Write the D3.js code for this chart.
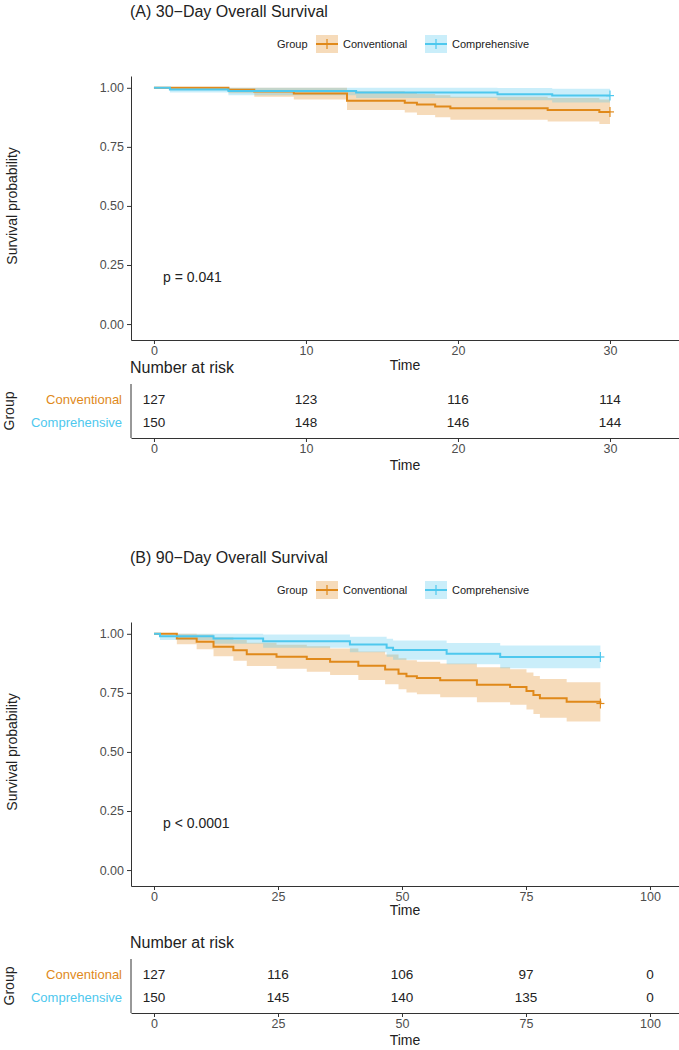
<!DOCTYPE html>
<html lang="en">
<head>
<meta charset="UTF-8">
<title>Survival</title>
<script src="https://d3js.org/d3.v7.min.js"></script>
<style>
  body{margin:0;background:#fff;}
  text{font-family:"Liberation Sans",Arial,sans-serif;}
  .axis path,.axis line{stroke:#333;}
  .axis text{fill:#4d4d4d;font-size:12.5px;}
</style>
</head>
<body>
<script type="text/javascript">
// ---- data ----
var groups = ["Conventional", "Comprehensive"];
var colors = ["#e0891a", "#4ec8ee"];

// panel A (30 day)
var aConvT  = [0, 4.9, 6.6, 9.2, 12.7, 16.5, 17.3, 18.5, 19.5, 25.9, 29.3, 30];
var aConvS  = [1, .992, .984, .976, .945, .937, .929, .921, .913, .906, .898, .898];
var aConvLo = [1, .977, .962, .950, .906, .896, .885, .875, .865, .857, .847, .847];
var aConvUp = [1, 1, 1, 1, .985, .979, .974, .968, .962, .957, .951, .951];
var aCompT  = [0, 1.05, 4.9, 13.3, 22.6, 26.2, 30];
var aCompS  = [1, .993, .987, .980, .973, .967, .967];
var aCompLo = [1, .980, .968, .957, .947, .938, .938];
var aCompUp = [1, 1, 1, 1, .999, .996, .996];
var aRiskTimes = [0, 10, 20, 30];
var aRiskConv = [127, 123, 116, 114];
var aRiskComp = [150, 148, 146, 144];

// panel B (90 day)
var bConvT  = [0, 4.6, 8.6, 12.0, 16.0, 18.7, 24.7, 30.8, 35.5, 41.2, 46.6, 49.3, 50.9, 53.0, 57.7, 65.1, 71.8, 75.1, 76.5, 77.8, 83.2, 90];
var bConvS  = [1, .980, .966, .945, .930, .913, .903, .893, .882, .865, .849, .831, .820, .813, .803, .784, .775, .758, .741, .727, .712, .705];
var bConvLo = [1, .956, .935, .905, .886, .864, .852, .839, .826, .805, .786, .765, .752, .744, .732, .710, .700, .680, .661, .645, .629, .621];
var bConvUp = [1, 1, .997, .985, .974, .962, .954, .947, .938, .925, .912, .897, .888, .882, .874, .858, .850, .836, .821, .809, .795, .789];
var bCompT  = [0, 1.2, 12.0, 22.0, 39.5, 46.9, 48.2, 59.0, 69.8, 90];
var bCompS  = [1, .990, .980, .969, .955, .941, .931, .916, .902, .902];
var bCompLo = [1, .974, .958, .941, .922, .903, .890, .871, .854, .854];
var bCompUp = [1, 1, 1, .997, .988, .979, .972, .961, .950, .950];
var bRiskTimes = [0, 25, 50, 75, 100];
var bRiskConv = [127, 116, 106, 97, 0];
var bRiskComp = [150, 145, 140, 135, 0];

var yTicks = [0, 0.25, 0.5, 0.75, 1];

var svg = d3.select("body").append("svg").attr("width", 679).attr("height", 1050);

function zip(t, s, lo, up){
  return t.map(function(d, i){ return {t: d, s: s[i], lo: lo[i], up: up[i]}; });
}

function panel(o){
  var x = d3.scaleLinear().domain(o.xDom).range([131, 679]);
  var y = d3.scaleLinear().domain([-0.0675, 1.05]).range([o.bottom, o.bottom - 264]);

  svg.append("text").attr("x", 130).attr("y", o.bottom - 323)
     .attr("font-size", 16).attr("fill", "#222").text(o.title);

  // legend
  var ly = o.bottom - 296;
  svg.append("text").attr("x", 277).attr("y", ly + 4).attr("font-size", 11).attr("fill", "#222").text("Group");
  var lx = [316, 425];
  groups.forEach(function(g, i){
    svg.append("rect").attr("x", lx[i]).attr("y", ly - 9).attr("width", 22).attr("height", 18)
       .attr("fill", colors[i]).attr("opacity", 0.3);
    svg.append("line").attr("x1", lx[i]).attr("x2", lx[i] + 22).attr("y1", ly).attr("y2", ly)
       .attr("stroke", colors[i]).attr("stroke-width", 2);
    svg.append("line").attr("x1", lx[i] + 11).attr("x2", lx[i] + 11).attr("y1", ly - 5).attr("y2", ly + 5)
       .attr("stroke", colors[i]).attr("stroke-width", 1.2);
    svg.append("text").attr("x", lx[i] + 27).attr("y", ly + 4).attr("font-size", 11).attr("fill", "#222").text(g);
  });

  var area = d3.area().curve(d3.curveStepAfter)
    .x(function(d){ return x(d.t); }).y0(function(d){ return y(d.lo); }).y1(function(d){ return y(d.up); });
  var line = d3.line().curve(d3.curveStepAfter)
    .x(function(d){ return x(d.t); }).y(function(d){ return y(d.s); });

  o.series.forEach(function(data, i){
    svg.append("path").datum(data).attr("d", area).attr("fill", colors[i]).attr("opacity", 0.3);
  });
  o.series.forEach(function(data, i){
    svg.append("path").datum(data).attr("d", line).attr("fill", "none")
       .attr("stroke", colors[i]).attr("stroke-width", 2);
    var last = data[data.length - 1];
    svg.append("line").attr("x1", x(last.t)).attr("x2", x(last.t))
       .attr("y1", y(last.s) - 5).attr("y2", y(last.s) + 5)
       .attr("stroke", colors[i]).attr("stroke-width", 1.2);
    svg.append("line").attr("x1", x(last.t) - 4).attr("x2", x(last.t) + 4)
       .attr("y1", y(last.s)).attr("y2", y(last.s))
       .attr("stroke", colors[i]).attr("stroke-width", 1.2);
  });

  svg.append("g").attr("class", "axis").attr("transform", "translate(0," + o.bottom + ")")
     .call(d3.axisBottom(x).tickValues(o.ticks).tickSize(4).tickPadding(2).tickSizeOuter(0));
  svg.append("g").attr("class", "axis").attr("transform", "translate(131,0)")
     .call(d3.axisLeft(y).tickValues(yTicks).tickFormat(d3.format(".2f")).tickSize(4).tickSizeOuter(0));

  svg.append("text").attr("x", 405).attr("y", o.bottom + o.timeDy).attr("text-anchor", "middle")
     .attr("font-size", 14).attr("fill", "#222").text("Time");
  svg.append("text").attr("transform", "translate(17," + y(0.5) + ") rotate(-90)")
     .attr("text-anchor", "middle").attr("font-size", 14).attr("fill", "#222").text("Survival probability");
  svg.append("text").attr("x", x(o.xDom[0]) + 32).attr("y", y(0.2) + 5)
     .attr("font-size", 14).attr("fill", "#222").text(o.p);

  // risk table
  var tb = o.tBottom;
  svg.append("text").attr("x", 130).attr("y", tb - 65).attr("font-size", 16).attr("fill", "#222").text("Number at risk");
  groups.forEach(function(g, i){
    var vals = i === 0 ? o.riskConv : o.riskComp;
    var cy = tb - 39 + i * 23;
    svg.append("text").attr("x", 122).attr("y", cy + 4.5).attr("text-anchor", "end")
       .attr("font-size", 13).attr("fill", colors[i]).text(g);
    svg.selectAll(null).data(vals).enter().append("text")
       .attr("x", function(d, j){ return x(o.riskTimes[j]); }).attr("y", cy + 4.5)
       .attr("text-anchor", "middle").attr("font-size", 13.5).attr("fill", "#222").text(function(d){ return d; });
  });
  svg.append("line").attr("x1", 131).attr("x2", 131).attr("y1", tb - 54).attr("y2", tb).attr("stroke", "#333");
  svg.append("g").attr("class", "axis").attr("transform", "translate(0," + tb + ")")
     .call(d3.axisBottom(x).tickValues(o.ticks).tickSize(4).tickPadding(2).tickSizeOuter(0));
  svg.append("text").attr("x", 405).attr("y", tb + 32).attr("text-anchor", "middle")
     .attr("font-size", 14).attr("fill", "#222").text("Time");
  svg.append("text").attr("transform", "translate(14," + (tb - 27) + ") rotate(-90)")
     .attr("text-anchor", "middle").attr("font-size", 14).attr("fill", "#222").text("Group");
}

panel({
  title: "(A) 30\u2212Day Overall Survival", xDom: [-1.51, 34.54], ticks: [0, 10, 20, 30], bottom: 340, timeDy: 30,
  series: [zip(aConvT, aConvS, aConvLo, aConvUp), zip(aCompT, aCompS, aCompLo, aCompUp)],
  p: "p = 0.041", tBottom: 438, riskTimes: aRiskTimes, riskConv: aRiskConv, riskComp: aRiskComp
});
panel({
  title: "(B) 90\u2212Day Overall Survival", xDom: [-4.64, 105.85], ticks: [0, 25, 50, 75, 100], bottom: 886, timeDy: 29,
  series: [zip(bConvT, bConvS, bConvLo, bConvUp), zip(bCompT, bCompS, bCompLo, bCompUp)],
  p: "p < 0.0001", tBottom: 1013, riskTimes: bRiskTimes, riskConv: bRiskConv, riskComp: bRiskComp
});
</script>
</body>
</html>
